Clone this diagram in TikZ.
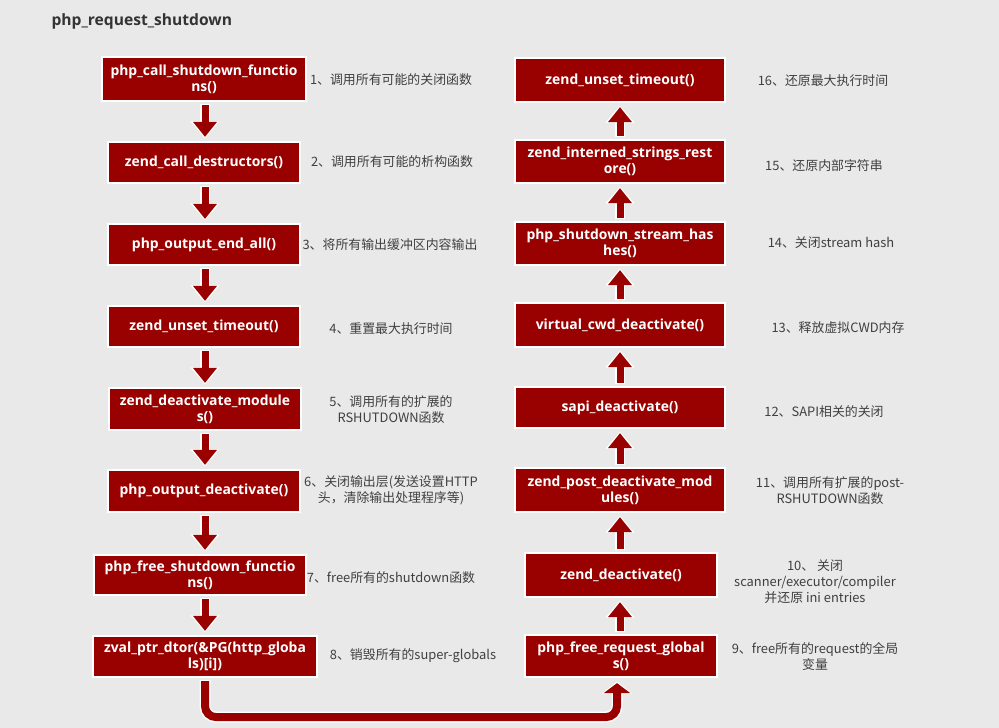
\documentclass[tikz,border=0pt]{standalone}
\usepackage{fontspec}
\setmainfont{Open Sans}
\newfontfamily\cjk{Noto Sans CJK SC}
\usetikzlibrary{arrows.meta}
\definecolor{bg}{HTML}{E9E9E9}
\definecolor{boxred}{HTML}{990000}
\definecolor{lbl}{HTML}{404040}
\definecolor{ttl}{HTML}{333333}
\begin{document}
\begin{tikzpicture}[x=1pt,y=-1pt,
  fbox/.style={fill=boxred, draw=white, line width=2.2pt, text=white,
    font=\bfseries\fontsize{13.9}{16}\selectfont, align=center,
    minimum height=42pt, minimum width=192pt, inner sep=1pt},
  lab/.style={text=lbl, font=\cjk\fontsize{12.9}{16}\selectfont, align=center},
  halo/.style={draw=white, line width=10pt, -{Triangle[width=28pt,length=17pt]},
    shorten <=2pt, shorten >=2.5pt},
  flow/.style={draw=boxred, line width=7pt, -{Triangle[width=23pt,length=15pt]},
    shorten <=3pt, shorten >=4pt},
  bigflow/.style={draw=boxred, line width=8pt, -{Triangle[width=26pt,length=10pt]},
    rounded corners=11pt, shorten <=3pt, shorten >=5pt},
  bighalo/.style={draw=white, line width=11pt, -{Triangle[width=30pt,length=12pt]},
    rounded corners=11pt, shorten <=2pt, shorten >=3.5pt}]
\fill[bg] (0,0) rectangle (999,728);
\useasboundingbox (0,0) rectangle (999,728);

\node[anchor=west, text=ttl, font=\bfseries\fontsize{15.6}{18}\selectfont] (title) at (48,21) {php\_request\_shutdown};

% left column
\node[fbox, minimum width=204pt, minimum height=44pt] (a1) at (204,79) {php\_call\_shutdown\_functio\\ns()};
\node[fbox, minimum height=41pt] (a2) at (204,162.5) {zend\_call\_destructors()};
\node[fbox, minimum height=41pt] (a3) at (204,244.5) {php\_output\_end\_all()};
\node[fbox, minimum height=41pt] (a4) at (204,326.5) {zend\_unset\_timeout()};
\node[fbox] (a5) at (205,409) {zend\_deactivate\_module\\s()};
\node[fbox] (a6) at (204,491) {php\_output\_deactivate()};
\node[fbox, minimum width=212pt, minimum height=40pt] (a7) at (200,575) {php\_free\_shutdown\_functio\\ns()};
\node[fbox, minimum width=224pt, minimum height=41pt] (a8) at (205,656.5) {zval\_ptr\_dtor(\&PG(http\_globa\\ls)[i])};

% right column
\node[fbox, minimum width=210pt, minimum height=44pt] (b16) at (620,80) {zend\_unset\_timeout()};
\node[fbox, minimum width=210pt, minimum height=43pt] (b15) at (620,161.5) {zend\_interned\_strings\_rest\\ore()};
\node[fbox, minimum width=210pt, minimum height=43pt] (b14) at (620,243.5) {php\_shutdown\_stream\_has\\hes()};
\node[fbox, minimum width=210pt, minimum height=44pt] (b13) at (620,325) {virtual\_cwd\_deactivate()};
\node[fbox, minimum width=210pt, minimum height=41pt] (b12) at (620,407.5) {sapi\_deactivate()};
\node[fbox, minimum width=210pt, minimum height=44pt] (b11) at (620,490) {zend\_post\_deactivate\_mod\\ules()};
\node[fbox, minimum height=44pt] (b10) at (621,575) {zend\_deactivate()};
\node[fbox] (b9) at (621,656) {php\_free\_request\_global\\s()};

% labels
\node[lab] (l1) at (391,80) {1、调用所有可能的关闭函数};
\node[lab] (l2) at (392,162) {2、调用所有可能的析构函数};
\node[lab] (l3) at (390,245) {3、将所有输出缓冲区内容输出};
\node[lab] (l4) at (391,329) {4、重置最大执行时间};
\node[lab] (l5) at (391,409.5) {5、调用所有的扩展的\\RSHUTDOWN函数};
\node[lab] (l6) at (391,490) {6、关闭输出层(发送设置HTTP\\头，清除输出处理程序等)};
\node[lab] (l7) at (391,578) {7、free所有的shutdown函数};
\node[lab] (l8) at (413,656) {8、销毁所有的super-globals};

\node[lab] (r16) at (823,81) {16、还原最大执行时间};
\node[lab] (r15) at (824,166) {15、还原内部字符串};
\node[lab] (r14) at (831,243) {14、关闭stream hash};
\node[lab] (r13) at (838,328) {13、释放虚拟CWD内存};
\node[lab] (r12) at (824,412) {12、SAPI相关的关闭};
\node[lab] (r11) at (830,491) {11、调用所有扩展的post-\\RSHUTDOWN函数};
\node[lab] (r10) at (815,582) {10、 关闭\\scanner/executor/compiler\\并还原 ini entries};
\node[lab] (r9) at (815,657) {9、free所有的request的全局\\变量};

% arrow columns
\coordinate (lx) at (205,0);
\coordinate (rx) at (620,0);

% connectors: left column goes down, right column goes up
\foreach \s/\t in {a1/a2,a2/a3,a3/a4,a4/a5,a5/a6,a6/a7,a7/a8}{
  \draw[halo] (\s.south -| lx) -- (\t.north -| lx);
  \draw[flow] (\s.south -| lx) -- (\t.north -| lx);
}
\foreach \s/\t in {b9/b10,b10/b11,b11/b12,b12/b13,b13/b14,b14/b15,b15/b16}{
  \draw[halo] (\s.north -| rx) -- (\t.south -| rx);
  \draw[flow] (\s.north -| rx) -- (\t.south -| rx);
}
\coordinate (c8) at ([xshift=-4pt]b9.south);
\draw[bighalo] (a8.south) -- ++(0,39) -| (c8);
\draw[bigflow] (a8.south) -- ++(0,39) -| (c8);
\end{tikzpicture}
\end{document}
